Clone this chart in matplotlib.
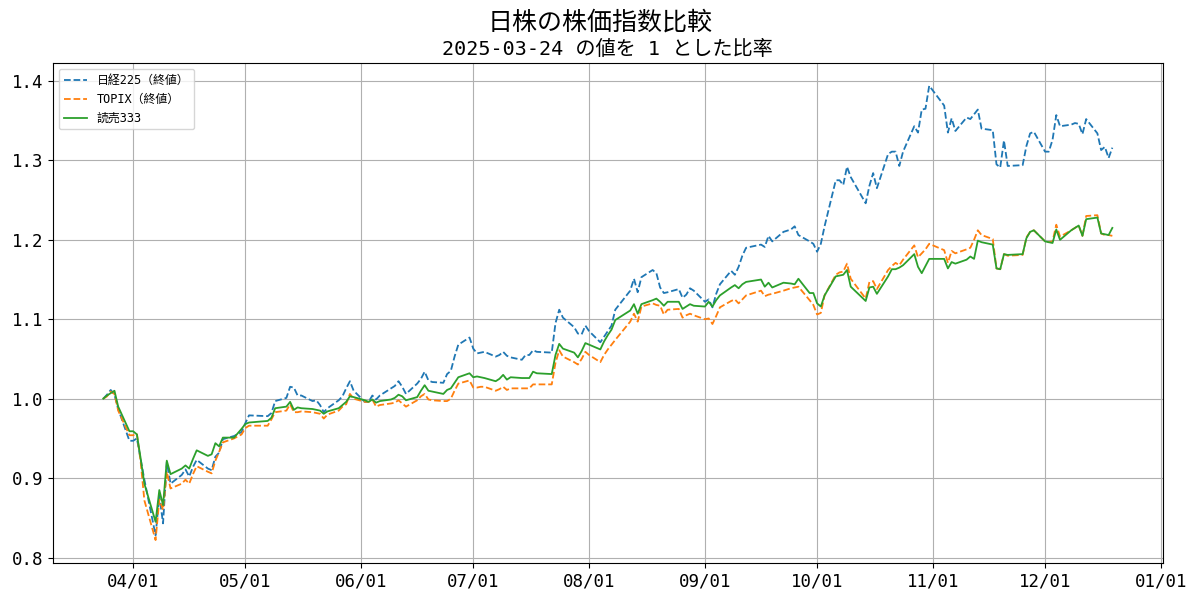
import matplotlib
matplotlib.use("Agg")
import matplotlib.pyplot as plt
import matplotlib.dates as mdates
import pandas as pd

plt.rcParams['font.family'] = ['DejaVu Sans Mono', 'Noto Sans CJK SC']

# trading days (TSE holidays removed)
holidays = ['2025-04-29', '2025-05-05', '2025-05-06', '2025-07-21', '2025-08-11',
            '2025-09-15', '2025-09-23', '2025-10-13', '2025-11-03', '2025-11-24']
dates = pd.bdate_range('2025-03-24', '2025-12-19', freq='C', holidays=holidays)

# ratio to 2025-03-24 close
nikkei = [
    1.000, 1.005, 1.011, 1.005, 0.987, 0.947,
    0.947, 0.950, 0.924, 0.898, 0.828, 0.878, 0.843, 0.920, 0.893, 0.904, 0.911,
    0.902, 0.914, 0.923, 0.912, 0.910, 0.927, 0.932, 0.949, 0.953, 0.958,
    0.969, 0.979, 0.978, 0.982, 0.997, 1.001, 1.015, 1.014, 1.004, 1.004, 0.997,
    0.998, 0.992, 0.983, 0.988, 0.998, 1.003, 1.013, 1.022, 1.010,
    0.996, 0.996, 1.004, 0.999, 1.004, 1.013, 1.016, 1.022, 1.015, 1.006, 1.019,
    1.025, 1.034, 1.023, 1.021, 1.020, 1.031, 1.035, 1.053, 1.068, 1.077,
    1.063, 1.057, 1.058, 1.059, 1.053, 1.055, 1.059, 1.054, 1.052, 1.049, 1.055,
    1.055, 1.061, 1.059, 1.058, 1.095, 1.112, 1.102, 1.090, 1.082, 1.081, 1.092,
    1.085, 1.071, 1.078, 1.085, 1.092, 1.112, 1.136, 1.151, 1.134, 1.153, 1.162,
    1.158, 1.140, 1.133, 1.134, 1.138, 1.127, 1.131, 1.139, 1.136,
    1.122, 1.125, 1.115, 1.132, 1.144, 1.161, 1.156, 1.166, 1.180, 1.190, 1.194,
    1.191, 1.205, 1.198, 1.210, 1.213, 1.217, 1.206, 1.198, 1.195,
    1.185, 1.195, 1.217, 1.275, 1.275, 1.269, 1.292, 1.279, 1.246, 1.268, 1.284,
    1.265, 1.308, 1.311, 1.311, 1.293, 1.311, 1.343, 1.335, 1.364, 1.365, 1.394,
    1.369, 1.335, 1.353, 1.337, 1.354, 1.352, 1.358, 1.364, 1.340, 1.338, 1.295,
    1.291, 1.325, 1.293, 1.294, 1.318, 1.334, 1.336,
    1.311, 1.311, 1.326, 1.357, 1.343, 1.345, 1.347, 1.346, 1.333, 1.352, 1.334,
    1.313, 1.317, 1.303, 1.316,
]
topix = [
    1.000, 1.003, 1.009, 1.006, 0.985, 0.954,
    0.954, 0.956, 0.921, 0.872, 0.822, 0.873, 0.860, 0.908, 0.887, 0.893, 0.898,
    0.893, 0.905, 0.915, 0.908, 0.906, 0.922, 0.933, 0.945, 0.950, 0.955,
    0.963, 0.966, 0.966, 0.974, 0.983, 0.985, 0.993, 0.983, 0.983, 0.984, 0.983,
    0.982, 0.981, 0.975, 0.980, 0.985, 0.990, 0.993, 1.006, 1.000,
    0.996, 0.996, 0.999, 0.990, 0.992, 0.994, 0.995, 0.998, 0.994, 0.990, 0.998,
    1.003, 1.006, 0.999, 0.998, 0.997, 0.997, 1.000, 1.010, 1.019, 1.023,
    1.014, 1.014, 1.015, 1.015, 1.010, 1.012, 1.015, 1.011, 1.013, 1.013, 1.013,
    1.013, 1.018, 1.018, 1.018, 1.045, 1.061, 1.053, 1.046, 1.043, 1.050, 1.059,
    1.055, 1.046, 1.055, 1.062, 1.068, 1.074, 1.097, 1.107, 1.097, 1.116, 1.120,
    1.118, 1.117, 1.106, 1.112, 1.113, 1.102, 1.105, 1.107, 1.105,
    1.100, 1.101, 1.094, 1.104, 1.115, 1.123, 1.125, 1.120, 1.125, 1.130, 1.136,
    1.129, 1.131, 1.132, 1.136, 1.139, 1.140, 1.141, 1.124, 1.118,
    1.106, 1.108, 1.130, 1.156, 1.159, 1.160, 1.170, 1.151, 1.126, 1.147, 1.148,
    1.138, 1.162, 1.167, 1.171, 1.168, 1.175, 1.193, 1.178, 1.183, 1.188, 1.195,
    1.187, 1.171, 1.186, 1.183, 1.188, 1.190, 1.200, 1.212, 1.206, 1.201, 1.164,
    1.163, 1.182, 1.180, 1.181, 1.203, 1.210, 1.212,
    1.198, 1.197, 1.198, 1.219, 1.204, 1.212, 1.215, 1.218, 1.205, 1.230, 1.231,
    1.208, 1.206, 1.206, 1.205,
]
yomiuri = [
    1.000, 1.004, 1.007, 1.010, 0.990, 0.959,
    0.959, 0.955, 0.925, 0.893, 0.845, 0.885, 0.866, 0.922, 0.905, 0.912, 0.916,
    0.912, 0.924, 0.935, 0.928, 0.930, 0.944, 0.940, 0.951, 0.951, 0.962,
    0.968, 0.970, 0.972, 0.976, 0.988, 0.990, 0.996, 0.986, 0.989, 0.988, 0.987,
    0.986, 0.985, 0.981, 0.984, 0.988, 0.992, 0.996, 1.003, 1.002,
    0.998, 0.996, 0.999, 0.995, 0.997, 0.999, 1.001, 1.005, 1.003, 0.998, 1.002,
    1.010, 1.017, 1.010, 1.009, 1.006, 1.011, 1.013, 1.020, 1.027, 1.032,
    1.027, 1.028, 1.027, 1.026, 1.022, 1.025, 1.030, 1.024, 1.027, 1.026, 1.026,
    1.026, 1.034, 1.032, 1.031, 1.055, 1.069, 1.063, 1.058, 1.052, 1.060, 1.070,
    1.068, 1.062, 1.072, 1.080, 1.087, 1.099, 1.111, 1.119, 1.107, 1.119, 1.124,
    1.126, 1.122, 1.117, 1.122, 1.122, 1.113, 1.116, 1.119, 1.117,
    1.116, 1.122, 1.116, 1.124, 1.130, 1.140, 1.143, 1.139, 1.144, 1.147, 1.150,
    1.141, 1.146, 1.140, 1.146, 1.145, 1.144, 1.151, 1.133, 1.133,
    1.120, 1.116, 1.130, 1.154, 1.155, 1.156, 1.162, 1.141, 1.123, 1.140, 1.141,
    1.132, 1.154, 1.163, 1.163, 1.165, 1.168, 1.182, 1.166, 1.158, 1.167, 1.176,
    1.176, 1.164, 1.172, 1.170, 1.175, 1.179, 1.176, 1.199, 1.197, 1.194, 1.164,
    1.163, 1.182, 1.181, 1.182, 1.202, 1.210, 1.212,
    1.198, 1.197, 1.196, 1.213, 1.200, 1.212, 1.215, 1.218, 1.205, 1.226, 1.228,
    1.208, 1.207, 1.206, 1.215,
]

fig = plt.figure(figsize=(12, 6), dpi=100)
ax = fig.add_subplot(1, 1, 1)
plt.subplots_adjust(left=0.044, right=0.969, top=0.895, bottom=0.062)

ax.plot(dates, nikkei, '--', color='C0', lw=1.3, label='日経225（終値）')
ax.plot(dates, topix, '--', color='C1', lw=1.3, label='TOPIX（終値）')
ax.plot(dates, yomiuri, '-', color='C2', lw=1.3, label='読売333')

ax.xaxis.set_major_locator(mdates.MonthLocator())
ax.xaxis.set_major_formatter(mdates.DateFormatter('%m/%d'))
ax.tick_params(labelsize=12.5)
ax.grid(True)
ax.legend(loc='upper left', fontsize=8.6)

fig.suptitle('日株の株価指数比較', fontsize=18, y=0.982)
ax.set_title('2025-03-24 の値を 1 とした比率', fontsize=14.5)

fig.savefig('out.png')
